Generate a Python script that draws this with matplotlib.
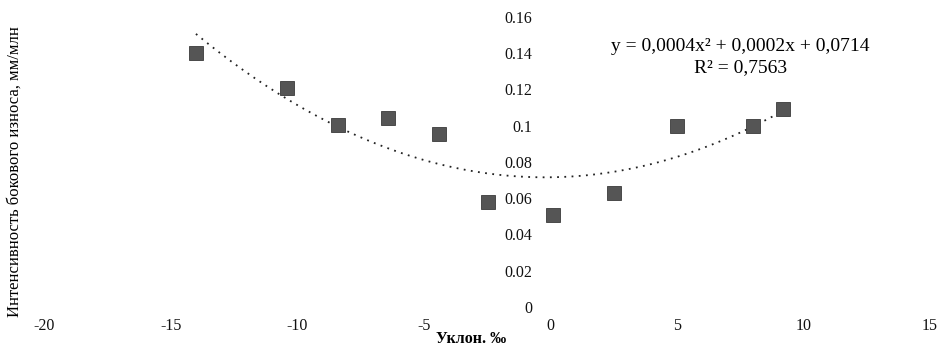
import numpy as np
import matplotlib.pyplot as plt
from matplotlib.ticker import FuncFormatter

plt.rcParams['font.family'] = ['Liberation Serif', 'DejaVu Serif']
plt.rcParams['axes.unicode_minus'] = False

# Data
slope = [-14.0, -10.4, -8.4, -6.4, -4.4, -2.45, 0.1, 2.5, 5.0, 8.0, 9.2]
wear = [0.140, 0.121, 0.1005, 0.104, 0.0955, 0.058, 0.0508, 0.063, 0.100, 0.100, 0.109]
x_ticks = [-20, -15, -10, -5, 0, 5, 10, 15]
y_ticks = [0, 0.02, 0.04, 0.06, 0.08, 0.1, 0.12, 0.14, 0.16]

fig = plt.figure(figsize=(9.43, 3.47), dpi=100)
ax = fig.add_axes([0.0467, 0.1153, 0.9396, 0.8357])

# polynomial trend line (2nd order)
coef = np.polyfit(slope, wear, 2)
xs = np.linspace(min(slope), max(slope), 200)
ax.plot(xs, np.polyval(coef, xs), color='#222222', linestyle=(0, (1, 3)), linewidth=1.3)

ax.plot(slope, wear, linestyle='none', marker='s', markersize=10,
        markerfacecolor='#555555', markeredgecolor='#3a3a3a', markeredgewidth=0.6)

ax.set_xlim(-20, 15)
ax.set_ylim(0, 0.16)
ax.set_xticks(x_ticks)
ax.set_yticks(y_ticks)
ax.yaxis.set_major_formatter(FuncFormatter(lambda v, p: '%g' % v))

for s in ax.spines.values():
    s.set_visible(False)
ax.spines['left'].set_position(('data', 0))
ax.tick_params(axis='both', length=0, labelsize=11.5, colors='#111111')
ax.tick_params(axis='y', pad=13)
ax.tick_params(axis='x', pad=8)

ax.text(7.5, 0.1435, 'y = 0,0004x² + 0,0002x + 0,0714', ha='center', va='center', fontsize=14)
ax.text(7.5, 0.132, 'R² = 0,7563', ha='center', va='center', fontsize=14)

fig.text(0.5, 0.0, 'Уклон. ‰', ha='center', va='bottom', fontsize=11.5, fontweight='bold')
fig.text(0.016, 0.505, 'Интенсивность бокового износа, мм/млн', rotation=90,
         ha='center', va='center', fontsize=12)

fig.savefig('out.png', dpi=100)
